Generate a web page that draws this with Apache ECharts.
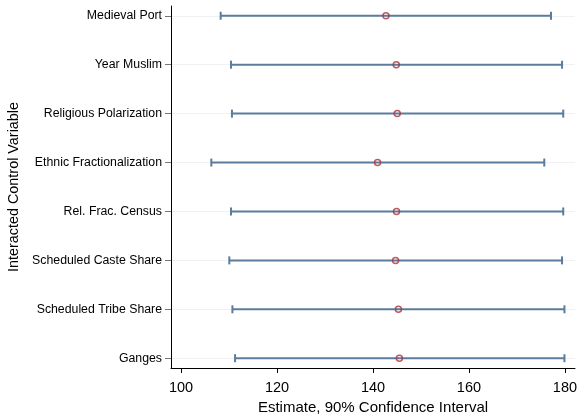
<!DOCTYPE html>
<html><head><meta charset="utf-8">
<script src="https://cdn.jsdelivr.net/npm/echarts@6/dist/echarts.min.js"></script>
<style>html,body{margin:0;padding:0;background:#fff}#c{width:578px;height:414px}</style>
</head><body><div id="c"></div>
<script>
const categories = ["Medieval Port","Year Muslim","Religious Polarization","Ethnic Fractionalization","Rel. Frac. Census","Scheduled Caste Share","Scheduled Tribe Share","Ganges"];
const estimates = [142.7,144.85,145.05,140.95,144.9,144.7,145.3,145.5];
const lowers = [108.25,110.4,110.6,106.3,110.4,110.05,110.7,111.25];
const uppers = [177.1,179.4,179.65,175.7,179.65,179.4,179.9,179.9];
const xTicks = [100,120,140,160,180];

const positions = categories.map((c,i)=>i+1);
const barData = categories.map((c,i)=>[lowers[i],uppers[i],i+1]);
const ptData = categories.map((c,i)=>[estimates[i],i+1]);
const FONT = "Liberation Sans, Arial, sans-serif";
const barColor = "#5b7c9c";

const chart = echarts.init(document.getElementById('c'));
chart.setOption({
  animation:false,
  grid:{left:171,right:3,top:6,bottom:46,containLabel:false,outerBoundsMode:'none'},
  xAxis:{type:'value',min:97.9,max:182.1,
    name:'Estimate, 90% Confidence Interval',nameLocation:'middle',nameGap:27,
    nameTextStyle:{fontFamily:FONT,fontSize:15,color:'#000'},
    axisLine:{show:true,lineStyle:{color:'#000',width:1}},
    axisTick:{show:true,customValues:xTicks,length:5,lineStyle:{color:'#000'}},
    axisLabel:{customValues:xTicks,margin:12,fontFamily:FONT,fontSize:14.5,color:'#000'},
    splitLine:{show:false}},
  yAxis:{type:'value',inverse:true,min:0.8,max:8.2,
    name:'Interacted Control Variable',nameLocation:'middle',nameGap:149,
    nameTextStyle:{fontFamily:FONT,fontSize:14.4,color:'#000'},
    axisLine:{show:true,lineStyle:{color:'#000',width:1}},
    axisTick:{show:true,customValues:positions,length:6,lineStyle:{color:'#777'}},
    axisLabel:{customValues:positions,margin:9,fontFamily:FONT,fontSize:12.3,color:'#000',
      formatter:v=>categories[Math.round(v)-1]||''},
    splitLine:{show:true,lineStyle:{color:'#eef2f2',width:1}}},
  series:[
    {type:'custom',data:barData,encode:{x:[0,1],y:2},z:2,
     renderItem:function(params,api){
       const a=api.coord([api.value(0),api.value(2)]);
       const b=api.coord([api.value(1),api.value(2)]);
       const h=4;
       const st={stroke:barColor,lineWidth:2};
       return {type:'group',children:[
         {type:'line',shape:{x1:a[0],y1:a[1],x2:b[0],y2:b[1]},style:st},
         {type:'line',shape:{x1:a[0],y1:a[1]-h,x2:a[0],y2:a[1]+h},style:st},
         {type:'line',shape:{x1:b[0],y1:b[1]-h,x2:b[0],y2:b[1]+h},style:st}
       ]};
     }},
    {type:'scatter',data:ptData,symbol:'circle',symbolSize:6,z:3,
     itemStyle:{color:'rgba(0,0,0,0)',borderColor:'#a8323e',borderWidth:1.5}}
  ]
});
</script></body></html>
